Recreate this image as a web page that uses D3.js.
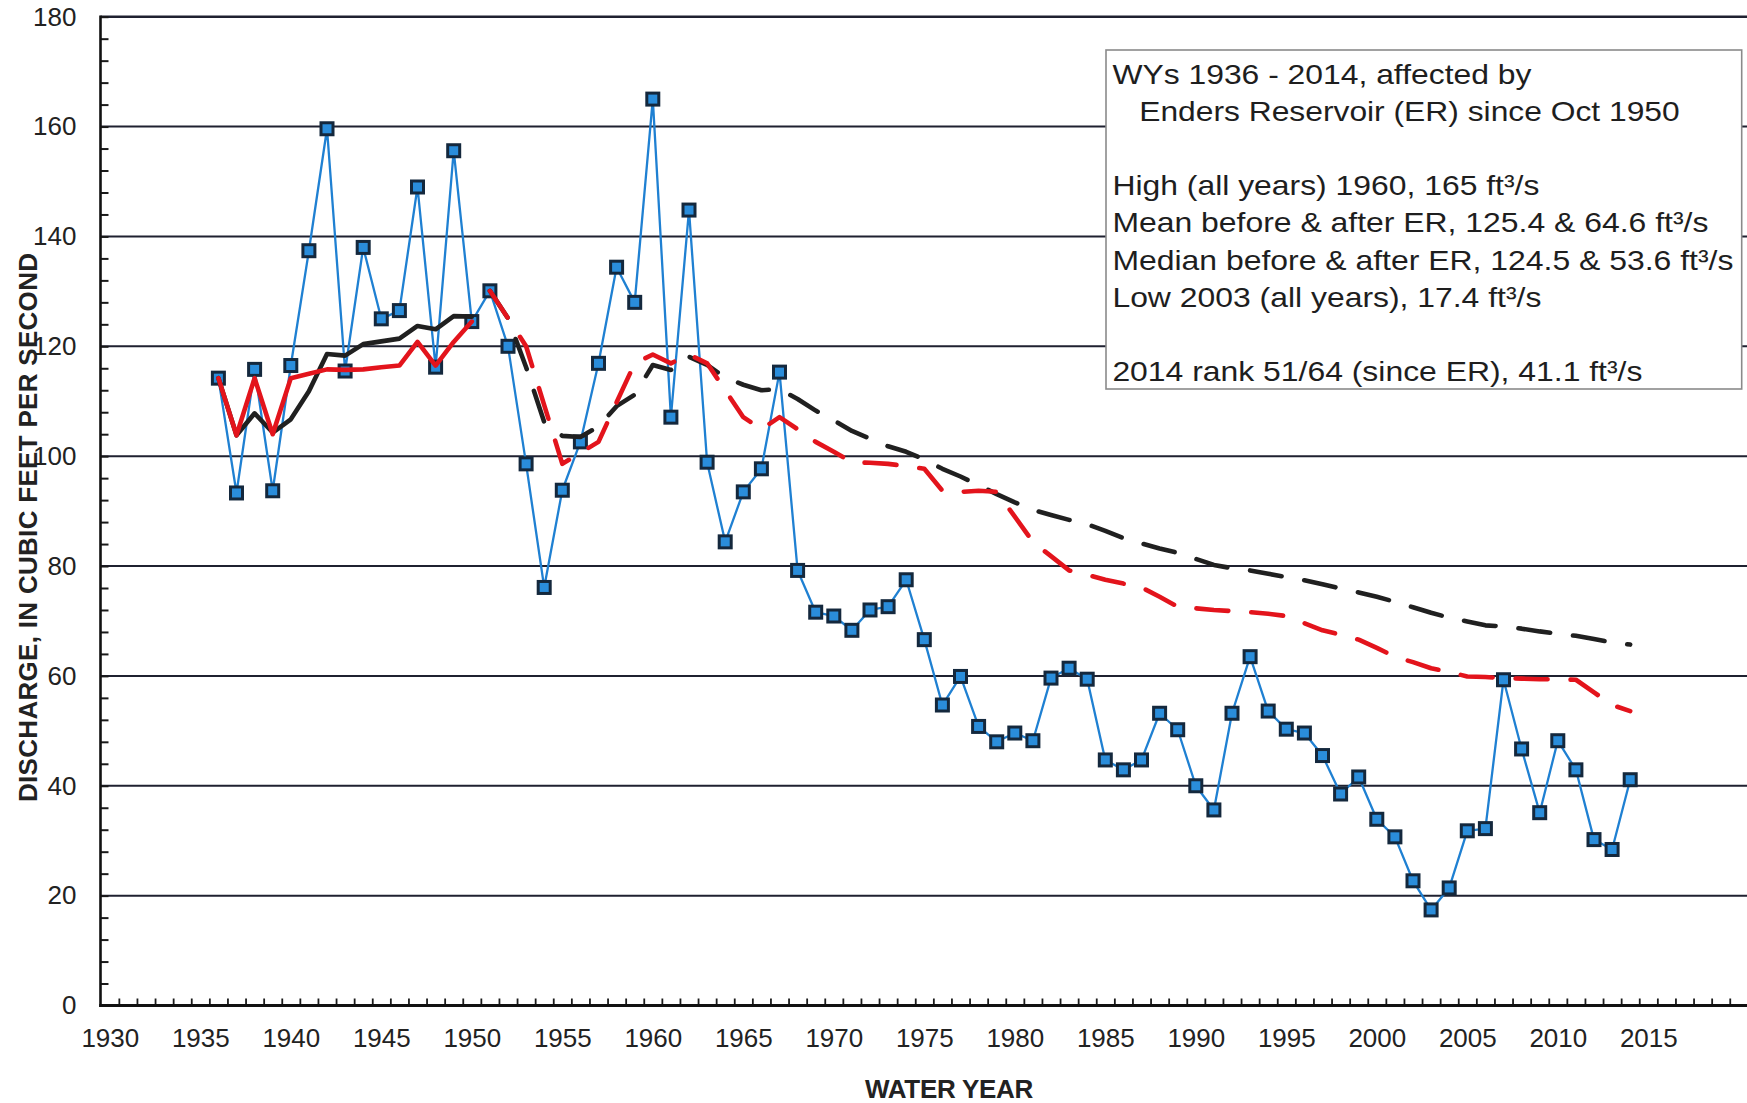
<!DOCTYPE html>
<html>
<head>
<meta charset="utf-8">
<script src="https://cdn.jsdelivr.net/npm/d3@7"></script>
<style>
  html, body { margin: 0; padding: 0; background: #fff; }
  svg { display: block; font-family: "Liberation Sans", Arial, sans-serif; }
</style>
</head>
<body>
<svg id="chart" width="1747" height="1103"></svg>
<script>
// Annual mean discharge by water year
const waterYears = [
  1936, 1937, 1938, 1939, 1940, 1941, 1942, 1943, 1944, 1945, 1946, 1947, 1948, 1949, 1950,
  1951, 1952, 1953, 1954, 1955, 1956, 1957, 1958, 1959, 1960,
  1961, 1962, 1963, 1964, 1965, 1966, 1967, 1968, 1969, 1970,
  1971, 1972, 1973, 1974, 1975, 1976, 1977, 1978, 1979, 1980,
  1981, 1982, 1983, 1984, 1985, 1986, 1987, 1988, 1989, 1990,
  1991, 1992, 1993, 1994, 1995, 1996, 1997, 1998, 1999, 2000,
  2001, 2002, 2003, 2004, 2005, 2006, 2007, 2008, 2009, 2010,
  2011, 2012, 2013, 2014
];
const discharge = [
  114.2, 93.3, 115.8, 93.7, 116.5, 137.4, 159.6, 115.5, 138.0, 125.0, 126.5, 149.0, 116.2, 155.6, 124.5,
  130.1, 120.0, 98.6, 76.1, 93.8, 102.6, 116.9, 134.4, 128.0, 165.0,
  107.1, 144.8, 98.9, 84.4, 93.5, 97.7, 115.3, 79.2, 71.6, 70.9,
  68.3, 72.0, 72.6, 77.5, 66.6, 54.7, 59.9, 50.8, 48.0, 49.6,
  48.2, 59.6, 61.4, 59.4, 44.7, 42.9, 44.7, 53.2, 50.2, 40.0,
  35.6, 53.2, 63.5, 53.6, 50.3, 49.6, 45.5, 38.5, 41.6, 33.9,
  30.7, 22.7, 17.4, 21.4, 31.8, 32.2, 59.3, 46.7, 35.1, 48.2,
  42.9, 30.2, 28.4, 41.1
];

// Cumulative mean and median, before Enders Reservoir (WY 1936-1950)
const yearsBeforeER = [1936, 1937, 1938, 1939, 1940, 1941, 1942, 1943, 1944, 1945, 1946, 1947, 1948, 1949, 1950];
const meanBeforeER = [114.2, 103.8, 107.8, 104.3, 106.7, 111.8, 118.6, 118.3, 120.4, 120.9, 121.4, 123.7, 123.1, 125.5, 125.4];
const medianBeforeER = [114.2, 103.8, 114.2, 104.0, 114.2, 115.0, 115.8, 115.7, 115.8, 116.2, 116.5, 120.8, 116.5, 120.8, 124.5];

// Cumulative mean and median, since Enders Reservoir (WY 1951-2014)
const yearsAfterER = waterYears.slice(15);
const meanAfterER = [
  130.1, 125.1, 116.2, 106.2, 103.7, 103.5, 105.4, 109.1, 111.2, 116.6,
  115.7, 118.1, 116.6, 114.3, 113.0, 112.0, 112.2, 110.4, 108.3, 106.5,
  104.6, 103.2, 101.8, 100.8, 99.4, 97.7, 96.3, 94.7, 93.1, 91.6,
  90.2, 89.3, 88.4, 87.6, 86.4, 85.1, 84.1, 83.2, 82.4, 81.3,
  80.2, 79.6, 79.2, 78.6, 78.0, 77.4, 76.7, 75.9, 75.2, 74.4,
  73.5, 72.5, 71.5, 70.6, 69.9, 69.2, 69.0, 68.6, 68.1, 67.7,
  67.3, 66.7, 66.1, 65.7
];
const medianAfterER = [
  130.1, 125.1, 120.0, 109.3, 98.6, 100.6, 102.6, 109.8, 116.9, 118.5,
  116.9, 118.5, 116.9, 112.0, 107.1, 104.9, 107.1, 104.9, 102.6, 100.8,
  98.9, 98.8, 98.6, 98.2, 97.7, 93.7, 93.5, 93.7, 93.5, 89.0,
  84.4, 81.8, 79.2, 78.4, 77.5, 76.8, 76.1, 74.4, 72.6, 72.3,
  72.0, 71.8, 71.6, 71.3, 70.9, 69.6, 68.3, 67.5, 66.6, 65.1,
  63.5, 62.5, 61.4, 60.7, 59.9, 59.8, 59.6, 59.5, 59.4, 59.4,
  59.3, 57.0, 54.7, 53.6
];

const xTickLabels = [1930, 1935, 1940, 1945, 1950, 1955, 1960, 1965, 1970, 1975, 1980, 1985, 1990, 1995, 2000, 2005, 2010, 2015];
const yTickLabels = [0, 20, 40, 60, 80, 100, 120, 140, 160, 180];

const noteLines = [
  "WYs 1936 - 2014, affected by",
  "Enders Reservoir (ER) since Oct 1950",
  "",
  "High (all years) 1960, 165 ft³/s",
  "Mean before & after ER, 125.4 & 64.6 ft³/s",
  "Median before & after ER, 124.5 & 53.6 ft³/s",
  "Low 2003 (all years), 17.4 ft³/s",
  "",
  "2014 rank 51/64 (since ER), 41.1 ft³/s"
];

// ---- layout ----
const W = 1747, H = 1103;
const plotLeft = 100.5, plotRight = W, plotTop = 16.7, plotBottom = 1005.5;

const svg = d3.select("#chart");

const x = d3.scaleLinear().domain([1930, 2015]).range([109.8, 1648.3]);
const y = d3.scaleLinear().domain([0, 180]).range([plotBottom, plotTop]);

// horizontal grid lines
svg.append("g")
  .selectAll("line")
  .data(yTickLabels.filter(v => v > 0))
  .join("line")
  .attr("x1", plotLeft).attr("x2", plotRight)
  .attr("y1", d => y(d)).attr("y2", d => y(d))
  .attr("stroke", "#1f2130")
  .attr("stroke-width", d => d === 180 ? 2.6 : 2);

// note box
const note = svg.append("g");
note.append("rect")
  .attr("x", 1106).attr("y", 50)
  .attr("width", 635.7).attr("height", 339)
  .attr("fill", "#fff")
  .attr("stroke", "#8a8a8a")
  .attr("stroke-width", 1.6);

const noteWidths = [419, 540.5, 0, 427, 596, 621, 429, 0, 530];
noteLines.forEach((line, i) => {
  if (!line) return;
  note.append("text")
    .attr("x", i === 1 ? 1139.2 : 1112.4)
    .attr("y", 84 + i * 37.1)
    .attr("font-size", 28.5)
    .attr("fill", "#1e1e1e")
    .attr("textLength", noteWidths[i])
    .attr("lengthAdjust", "spacingAndGlyphs")
    .text(line);
});

// y axis: labels
const yAxis = svg.append("g")
  .attr("transform", `translate(${plotLeft},0)`)
  .call(d3.axisLeft(y).tickValues(yTickLabels).tickSize(0).tickPadding(24).tickFormat(d3.format("d")));
yAxis.select(".domain").remove();
yAxis.selectAll("text").attr("font-size", 26).attr("fill", "#222").attr("font-family", "Liberation Sans, Arial, sans-serif");

// y axis: inside minor ticks every 4
const yMinor = svg.append("g")
  .attr("transform", `translate(${plotLeft},0)`)
  .call(d3.axisRight(y).tickValues(d3.range(0, 181, 4)).tickSize(8).tickFormat(""));
yMinor.select(".domain").remove();
yMinor.selectAll("line").attr("stroke", "#1a1a1a").attr("stroke-width", 2);

// x axis: labels
const xAxis = svg.append("g")
  .attr("transform", `translate(0,${plotBottom})`)
  .call(d3.axisBottom(x).tickValues(xTickLabels).tickSize(0).tickPadding(23).tickFormat(d3.format("d")));
xAxis.select(".domain").remove();
xAxis.selectAll("text").attr("font-size", 26).attr("fill", "#222").attr("font-family", "Liberation Sans, Arial, sans-serif");

// x axis: inside yearly ticks
const xMinor = svg.append("g")
  .attr("transform", `translate(0,${plotBottom})`)
  .call(d3.axisBottom(x).tickValues(d3.range(1930.5, 2020, 1)).tickSize(-7).tickFormat(""));
xMinor.select(".domain").remove();
xMinor.selectAll("line").attr("stroke", "#1a1a1a").attr("stroke-width", 1.8);

// axis lines
svg.append("line")
  .attr("x1", plotLeft).attr("x2", plotLeft)
  .attr("y1", plotTop - 1.3).attr("y2", plotBottom + 1.5)
  .attr("stroke", "#111").attr("stroke-width", 2.6);
svg.append("line")
  .attr("x1", plotLeft - 1.3).attr("x2", plotRight)
  .attr("y1", plotBottom).attr("y2", plotBottom)
  .attr("stroke", "#111").attr("stroke-width", 3);

// annual discharge line and markers
const annual = waterYears.map((yr, i) => ({ yr, v: discharge[i] }));
const line = d3.line().x(d => x(d.yr)).y(d => y(d.v));

svg.append("path")
  .datum(annual)
  .attr("d", line)
  .attr("fill", "none")
  .attr("stroke", "#1f80d2")
  .attr("stroke-width", 2.3)
  .attr("stroke-linejoin", "round");

svg.append("g")
  .selectAll("rect")
  .data(annual)
  .join("rect")
  .attr("x", d => x(d.yr) - 6)
  .attr("y", d => y(d.v) - 6)
  .attr("width", 12).attr("height", 12)
  .attr("fill", "#2a8ddb")
  .attr("stroke", "#14283d")
  .attr("stroke-width", 3);

// cumulative statistics
function statLine(years, values, color, dashed) {
  const pts = years.map((yr, i) => ({ yr, v: values[i] }));
  svg.append("path")
    .datum(pts)
    .attr("d", line)
    .attr("fill", "none")
    .attr("stroke", color)
    .attr("stroke-width", 4.6)
    .attr("stroke-linejoin", "round")
    .attr("stroke-linecap", "round")
    .attr("stroke-dasharray", dashed ? "32,23" : null);
}
statLine(yearsBeforeER, meanBeforeER, "#202020", false);
statLine(yearsAfterER, meanAfterER, "#202020", true);
statLine(yearsBeforeER, medianBeforeER, "#e3141c", false);
statLine(yearsAfterER, medianAfterER, "#e3141c", true);

// axis titles
svg.append("text")
  .attr("x", 949).attr("y", 1098)
  .attr("text-anchor", "middle")
  .attr("font-size", 26).attr("font-weight", "bold")
  .attr("fill", "#222")
  .attr("letter-spacing", -0.3)
  .text("WATER YEAR");

svg.append("text")
  .attr("transform", "translate(36.5,527.5) rotate(-90)")
  .attr("text-anchor", "middle")
  .attr("font-size", 26).attr("font-weight", "bold")
  .attr("fill", "#222")
  .attr("textLength", 549)
  .attr("lengthAdjust", "spacing")
  .text("DISCHARGE, IN CUBIC FEET PER SECOND");
</script>
</body>
</html>
